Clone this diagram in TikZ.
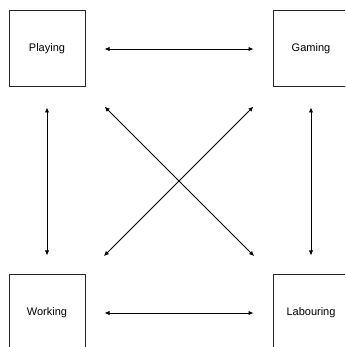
\documentclass[tikz,border=0pt]{standalone}
\usepackage{fontspec}
\setmainfont{Liberation Sans}
\usetikzlibrary{arrows.meta}
\begin{document}
\begin{tikzpicture}[x=1pt,y=1pt,
  box/.style={draw=black!85,line width=1pt,minimum width=76pt,minimum height=76pt,inner sep=0pt,font=\fontsize{11}{13}\selectfont},
  link/.style={line width=0.9pt,{Latex[length=5pt,width=4.5pt]}-{Latex[length=5pt,width=4.5pt]}},
  straight/.style={link,shorten <=19pt,shorten >=19pt},
  diag/.style={link,shorten <=27pt,shorten >=26pt}]
\clip (0,0) rectangle (345,347);
\useasboundingbox (0,0) rectangle (345,347);
\node[box] (play) at (47,298) {Playing};
\node[box] (game) at (311,298) {Gaming};
\node[box] (work) at (47,34) {Working};
\node[box] (lab) at (311,34) {Labouring};
\draw[straight] (play.east) -- (game.west);
\draw[straight] (work.east) -- (lab.west);
\draw[link,shorten <=20pt,shorten >=19pt] (play.south) -- (work.north);
\draw[link,shorten <=20pt,shorten >=19pt] (game.south) -- (lab.north);
\draw[diag] (play.south east) -- (lab.north west);
\draw[diag] (game.south west) -- (work.north east);
\end{tikzpicture}
\end{document}
